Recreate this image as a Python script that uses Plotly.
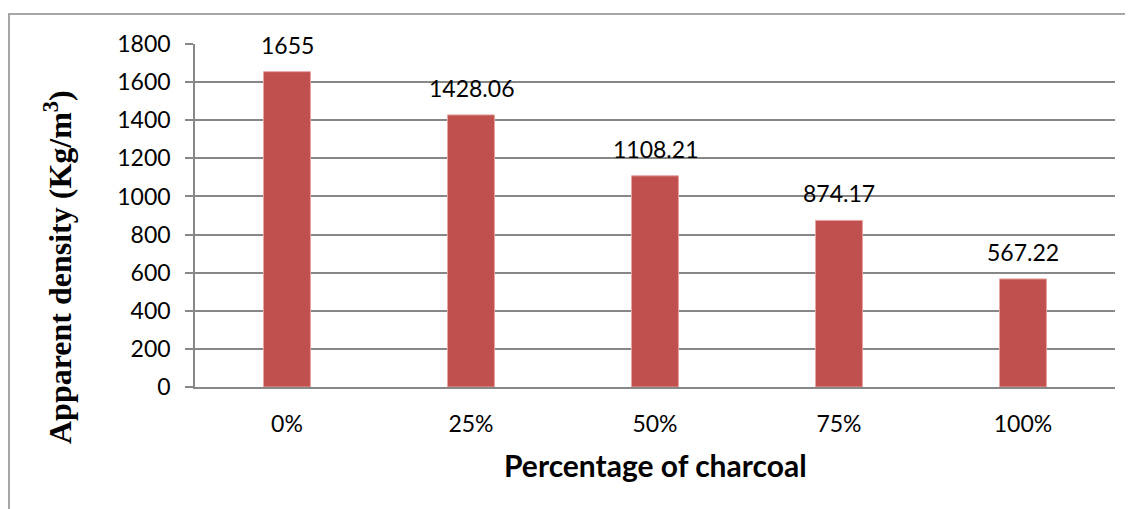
import plotly.graph_objects as go

categories = ["0%", "25%", "50%", "75%", "100%"]
density = [1655, 1428.06, 1108.21, 874.17, 567.22]
labels = ["1655", "1428.06", "1108.21", "874.17", "567.22"]
y_ticks = [0, 200, 400, 600, 800, 1000, 1200, 1400, 1600, 1800]

# page body has an 8px default margin; work in window pixels and offset
OFF = 8
W, H = 1133 - OFF, 509 - OFF
L, T = 195 - OFF, 44 - OFF
R = 1133 - 1115
B = 509 - 387
pw, ph = W - L - R, H - T - B

def px_x(x):
    return (x - OFF - L) / pw

def px_y(y):
    return (H - B - (y - OFF)) / ph

body_font = "Lato, 'Open Sans', sans-serif"
grid = "#878787"

fig = go.Figure()
fig.add_trace(go.Bar(
    x=categories, y=density,
    marker=dict(color="#C0504D", line=dict(color="#E8A2A0", width=1)),
    hoverinfo="x+y",
))

for c, v, t in zip(categories, density, labels):
    fig.add_annotation(x=c, y=v, text=t, showarrow=False, yanchor="middle",
                       yshift=27, font=dict(family=body_font, size=23, color="#000"))

fig.add_annotation(xref="paper", yref="paper", x=px_x(58), y=px_y(267),
                   text="<b>Apparent density (Kg/m<sup>3</sup>)</b>", textangle=-90,
                   showarrow=False, xanchor="center", yanchor="middle",
                   font=dict(family="'Liberation Serif', 'Times New Roman', serif", size=32, color="#000"))
fig.add_annotation(xref="paper", yref="paper", x=0.5, y=px_y(465),
                   text="<b>Percentage of charcoal</b>", showarrow=False,
                   xanchor="center", yanchor="middle",
                   font=dict(family=body_font, size=30, color="#000"))

# outer chart frame (cut off at right and bottom)
fig.add_shape(type="line", xref="paper", yref="paper", x0=px_x(8), x1=px_x(1145),
              y0=px_y(14), y1=px_y(14), line=dict(color="#A6A6A6", width=2))
fig.add_shape(type="line", xref="paper", yref="paper", x0=px_x(9), x1=px_x(9),
              y0=px_y(14), y1=px_y(520), line=dict(color="#A6A6A6", width=2))

fig.update_layout(
    width=W, height=H, autosize=False,
    margin=dict(l=L, r=R, t=T, b=B, pad=0),
    paper_bgcolor="white", plot_bgcolor="white",
    bargap=0.745, showlegend=False,
    font=dict(family=body_font, size=23, color="#000"),
)
fig.update_xaxes(showline=True, linecolor=grid, linewidth=1.5, ticks="",
                 ticklabelstandoff=16, tickfont=dict(size=23), showgrid=False)
fig.update_yaxes(range=[0, 1800], tickvals=y_ticks, showgrid=True, gridcolor=grid,
                 gridwidth=1.5, showline=True, linecolor=grid, linewidth=1.5,
                 ticks="outside", ticklen=8, tickcolor=grid, tickwidth=1.5,
                 ticklabelstandoff=10, tickfont=dict(size=23), zeroline=False)

fig.write_html("out.html")
